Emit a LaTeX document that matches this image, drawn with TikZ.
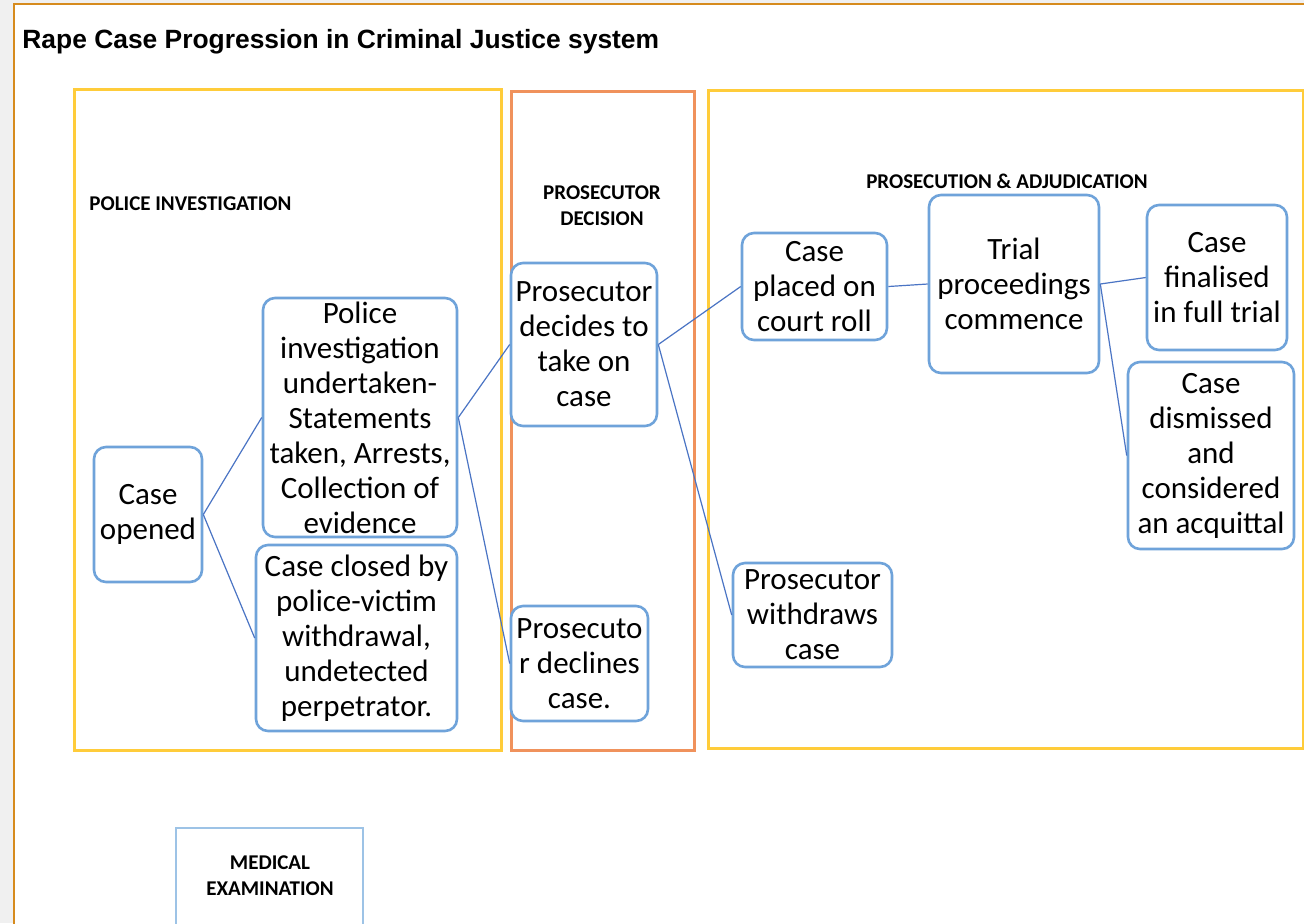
\documentclass[tikz,border=0pt]{standalone}
\usepackage{fontspec}
\setmainfont{Carlito}
\newfontfamily\titlefont{Liberation Sans}
\definecolor{pagegray}{HTML}{F0F0F0}
\definecolor{outerorange}{HTML}{D68B1E}
\definecolor{frameyellow}{HTML}{FFCC3A}
\definecolor{frameorange}{HTML}{F0925C}
\definecolor{boxblue}{HTML}{6FA3DA}
\definecolor{lineblue}{HTML}{4A74C4}
\definecolor{medblue}{HTML}{9DC3E6}
\tikzset{
  stagebox/.style={draw=boxblue, line width=1.3pt, rounded corners=6pt, fill=white,
    inner sep=0pt, align=center, font=\fontsize{15.5}{17.5}\selectfont},
  link/.style={draw=lineblue, line width=0.6pt},
  seclabel/.style={inner sep=0pt, align=center, font=\bfseries\fontsize{10.5}{13}\selectfont},
  sectionframe/.style={line width=1.5pt}
}
\begin{document}
\begin{tikzpicture}[x=0.5pt, y=-0.5pt]
\useasboundingbox (0,0) rectangle (1304,923);
\clip (0,0) rectangle (1304,923);
% page background
\fill[pagegray] (0,0) rectangle (1304,923);
\fill[white] (14,4) rectangle (1310,930);
\draw[outerorange, line width=0.9pt] (14,930) -- (14,4) -- (1310,4);
% title
\node[anchor=west, inner sep=0pt, font=\titlefont\bfseries\fontsize{13.2}{15}\selectfont] (title) at (22,42) {Rape Case Progression in Criminal Justice system};
% section frames
\draw[sectionframe, frameyellow] (74,89) rectangle (501,750);
\draw[sectionframe, frameorange] (511,91) rectangle (694,750);
\draw[sectionframe, frameyellow] (708,90) rectangle (1303,748);
\draw[draw=medblue, line width=1.2pt] (176,935) -- (176,828) -- (363,828) -- (363,935);
% section labels
\node[seclabel, anchor=west] (lpol) at (89,204) {POLICE INVESTIGATION};
\node[seclabel] (lpros) at (602,206) {PROSECUTOR\\DECISION};
\node[seclabel] (ladj) at (1007,181) {PROSECUTION \& ADJUDICATION};
\node[seclabel] (lmed) at (270,876) {MEDICAL\\EXAMINATION};
% stage boxes
\node[stagebox, minimum width=54pt, minimum height=67.5pt] (co) at (148,514.5) {Case\\opened};
\node[stagebox, minimum width=97pt, minimum height=119.5pt] (pi) at (360,417.5) {Police\\investigation\\undertaken-\\Statements\\taken, Arrests,\\Collection of\\evidence};
\node[stagebox, minimum width=100.5pt, minimum height=93pt] (cc) at (356.5,638) {Case closed by\\police-victim\\withdrawal,\\undetected\\perpetrator.};
\node[stagebox, minimum width=73pt, minimum height=81.5pt] (pd) at (584,344.5) {Prosecutor\\decides to\\take on\\case};
\node[stagebox, minimum width=68.5pt, minimum height=57.5pt] (pdec) at (579.5,663.5) {Prosecuto\\r declines\\case.};
\node[stagebox, minimum width=72.5pt, minimum height=53.5pt] (cr) at (814.5,286.5) {Case\\placed on\\court roll};
\node[stagebox, minimum width=85pt, minimum height=89pt] (tp) at (1014,284) {Trial\\proceedings\\commence};
\node[stagebox, minimum width=70pt, minimum height=72.5pt] (cf) at (1217,277.5) {Case\\finalised\\in full trial};
\node[stagebox, minimum width=83pt, minimum height=93.5pt] (cd) at (1211,455.5) {Case\\dismissed\\and\\considered\\an acquittal};
\node[stagebox, minimum width=79.5pt, minimum height=52pt] (pw) at (812.5,615) {Prosecutor\\withdraws\\case};
% connectors
\draw[link] (co.east) -- (pi.west);
\draw[link] (co.east) -- (cc.west);
\draw[link] (pi.east) -- (pd.west);
\draw[link] (pi.east) -- (pdec.west);
\draw[link] (pd.east) -- (cr.west);
\draw[link] (pd.east) -- (pw.west);
\draw[link] (cr.east) -- (tp.west);
\draw[link] (tp.east) -- (cf.west);
\draw[link] (tp.east) -- (cd.west);
\end{tikzpicture}
\end{document}
